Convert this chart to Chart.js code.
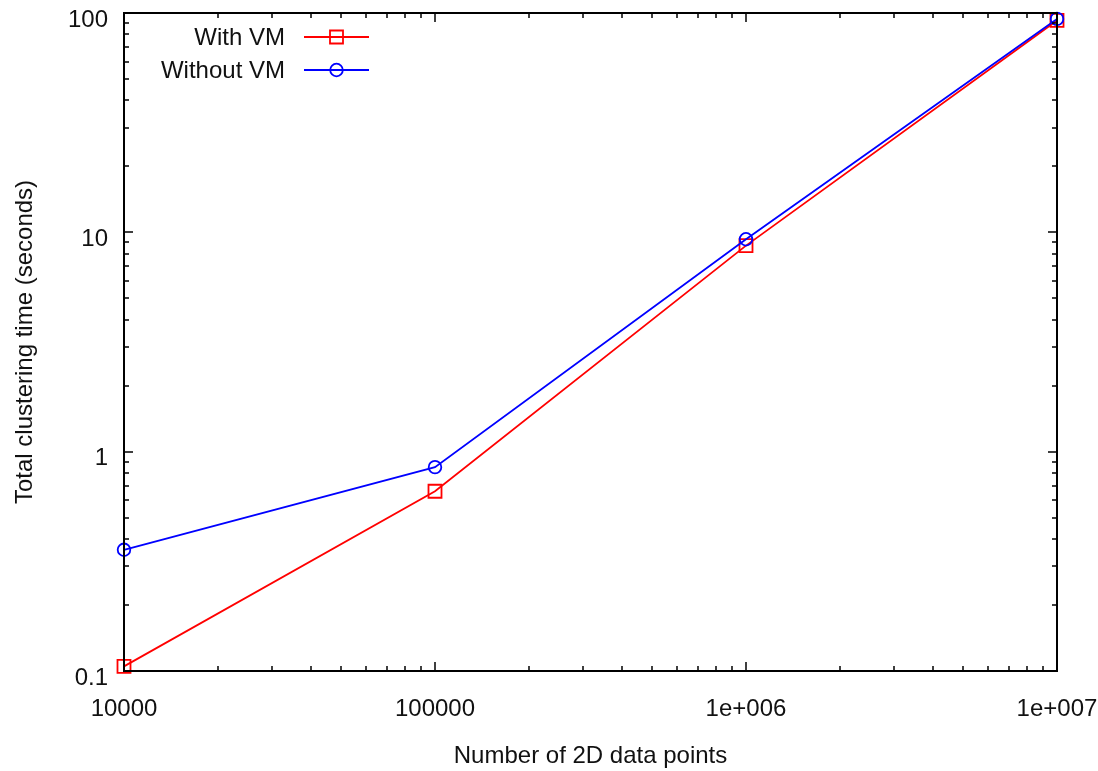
<!DOCTYPE html>
<html>
<head>
<meta charset="utf-8">
<script src="https://cdn.jsdelivr.net/npm/chart.js@4"></script>
<style>
  html, body { margin: 0; padding: 0; background: #fff; }
</style>
</head>
<body>
<canvas id="chart" width="1098" height="771"></canvas>
<script>
// data (log-log)
const pointCounts = [10000, 100000, 1000000, 10000000];
const withVM = [0.105, 0.66, 8.7, 92.5];
const withoutVM = [0.357, 0.85, 9.3, 94];
const seriesNames = ['With VM', 'Without VM'];
const xTickValues = [10000, 100000, 1000000, 10000000];
const xTickLabels = ['10000', '100000', '1e+006', '1e+007'];
const yTickValues = [0.1, 1, 10, 100];
const yTickLabels = ['0.1', '1', '10', '100'];

const FONT = 'Liberation Sans, Arial, sans-serif';
const FONT_SIZE = 24;

function minorTicks(decades) {
    const out = [];
    for (let i = 0; i < decades.length - 1; i++) {
        for (let k = 2; k <= 9; k++) out.push(decades[i] * k);
    }
    return out;
}

// gnuplot-ish frame: border, inward mirrored ticks, key at top-left
const frameTicks = {
    id: 'frameTicks',
    afterDraw(chart) {
        const { ctx, chartArea: a, scales: { x, y } } = chart;
        ctx.save();
        ctx.strokeStyle = '#000';
        ctx.lineWidth = 1.5;
        ctx.beginPath();
        const tick = (px, len, horiz) => {
            if (horiz) {
                ctx.moveTo(px, a.bottom); ctx.lineTo(px, a.bottom - len);
                ctx.moveTo(px, a.top); ctx.lineTo(px, a.top + len);
            } else {
                ctx.moveTo(a.left, px); ctx.lineTo(a.left + len, px);
                ctx.moveTo(a.right, px); ctx.lineTo(a.right - len, px);
            }
        };
        xTickValues.forEach(v => tick(Math.round(x.getPixelForValue(v)), 9, true));
        minorTicks(xTickValues).forEach(v => tick(Math.round(x.getPixelForValue(v)), 5, true));
        yTickValues.forEach(v => tick(Math.round(y.getPixelForValue(v)), 9, false));
        minorTicks(yTickValues).forEach(v => tick(Math.round(y.getPixelForValue(v)), 5, false));
        ctx.stroke();

        ctx.lineWidth = 2;
        ctx.strokeRect(a.left, a.top, a.right - a.left, a.bottom - a.top);

        // key
        ctx.font = FONT_SIZE + 'px ' + FONT;
        ctx.textAlign = 'right';
        ctx.textBaseline = 'middle';
        chart.data.datasets.forEach((ds, i) => {
            const ky = 37 + i * 33;
            ctx.fillStyle = '#111';
            ctx.fillText(ds.label, 285, ky + 1);
            ctx.strokeStyle = ds.borderColor;
            ctx.lineWidth = 1.8;
            ctx.beginPath();
            ctx.moveTo(304, ky); ctx.lineTo(369, ky);
            ctx.stroke();
            ctx.beginPath();
            if (ds.pointStyle === 'rect') {
                ctx.rect(330, ky - 6.5, 13, 13);
            } else {
                ctx.arc(336.5, ky, 6.3, 0, Math.PI * 2);
            }
            ctx.stroke();
        });
        ctx.restore();
    }
};

function noPad(scale) {
    scale.paddingTop = 0;
    scale.paddingBottom = 0;
    scale.paddingLeft = 0;
    scale.paddingRight = 0;
}

const ctx = document.getElementById('chart').getContext('2d');
new Chart(ctx, {
    type: 'line',
    data: {
        datasets: [{
            label: seriesNames[0],
            data: pointCounts.map((n, i) => ({ x: n, y: withVM[i] })),
            borderColor: '#ff0000',
            backgroundColor: 'rgba(0,0,0,0)',
            borderWidth: 1.8,
            pointStyle: 'rect',
            pointRadius: 9.2,
            pointBorderWidth: 1.8,
            pointBorderColor: '#ff0000',
            pointBackgroundColor: 'rgba(0,0,0,0)',
            tension: 0,
            clip: false,
            order: 1
        }, {
            label: seriesNames[1],
            data: pointCounts.map((n, i) => ({ x: n, y: withoutVM[i] })),
            borderColor: '#0000ff',
            backgroundColor: 'rgba(0,0,0,0)',
            borderWidth: 1.8,
            pointStyle: 'circle',
            pointRadius: 6.3,
            pointBorderWidth: 1.8,
            pointBorderColor: '#0000ff',
            pointBackgroundColor: 'rgba(0,0,0,0)',
            tension: 0,
            clip: false,
            order: 0
        }]
    },
    options: {
        responsive: false,
        animation: false,
        devicePixelRatio: 1,
        layout: { padding: { top: 13, right: 41, bottom: 0, left: 0 } },
        plugins: {
            legend: { display: false },
            tooltip: { enabled: false }
        },
        scales: {
            x: {
                type: 'logarithmic',
                min: 10000,
                max: 10000000,
                afterFit: scale => { scale.height = 100; noPad(scale); },
                afterBuildTicks: scale => {
                    scale.ticks = xTickValues.map(v => ({ value: v, major: true }));
                },
                grid: { display: false, drawTicks: false },
                border: { display: false },
                ticks: {
                    autoSkip: false,
                    maxRotation: 0,
                    padding: 24,
                    color: '#111',
                    font: { family: FONT, size: FONT_SIZE },
                    callback: (v) => xTickLabels[xTickValues.indexOf(v)]
                },
                title: {
                    display: true,
                    text: 'Number of 2D data points',
                    color: '#111',
                    font: { family: FONT, size: FONT_SIZE },
                    padding: { top: 0, bottom: 0 }
                }
            },
            y: {
                type: 'logarithmic',
                min: 0.1,
                max: 100,
                afterFit: scale => { scale.width = 124; noPad(scale); },
                afterBuildTicks: scale => {
                    scale.ticks = yTickValues.map(v => ({ value: v, major: true }));
                },
                grid: { display: false, drawTicks: false },
                border: { display: false },
                ticks: {
                    autoSkip: false,
                    padding: 16,
                    labelOffset: 7,
                    color: '#111',
                    font: { family: FONT, size: FONT_SIZE },
                    callback: (v) => yTickLabels[yTickValues.indexOf(v)]
                },
                title: {
                    display: true,
                    text: 'Total clustering time (seconds)',
                    color: '#111',
                    font: { family: FONT, size: FONT_SIZE },
                    padding: { top: 11, bottom: 0 }
                }
            }
        }
    },
    plugins: [frameTicks]
});
</script>
</body>
</html>
